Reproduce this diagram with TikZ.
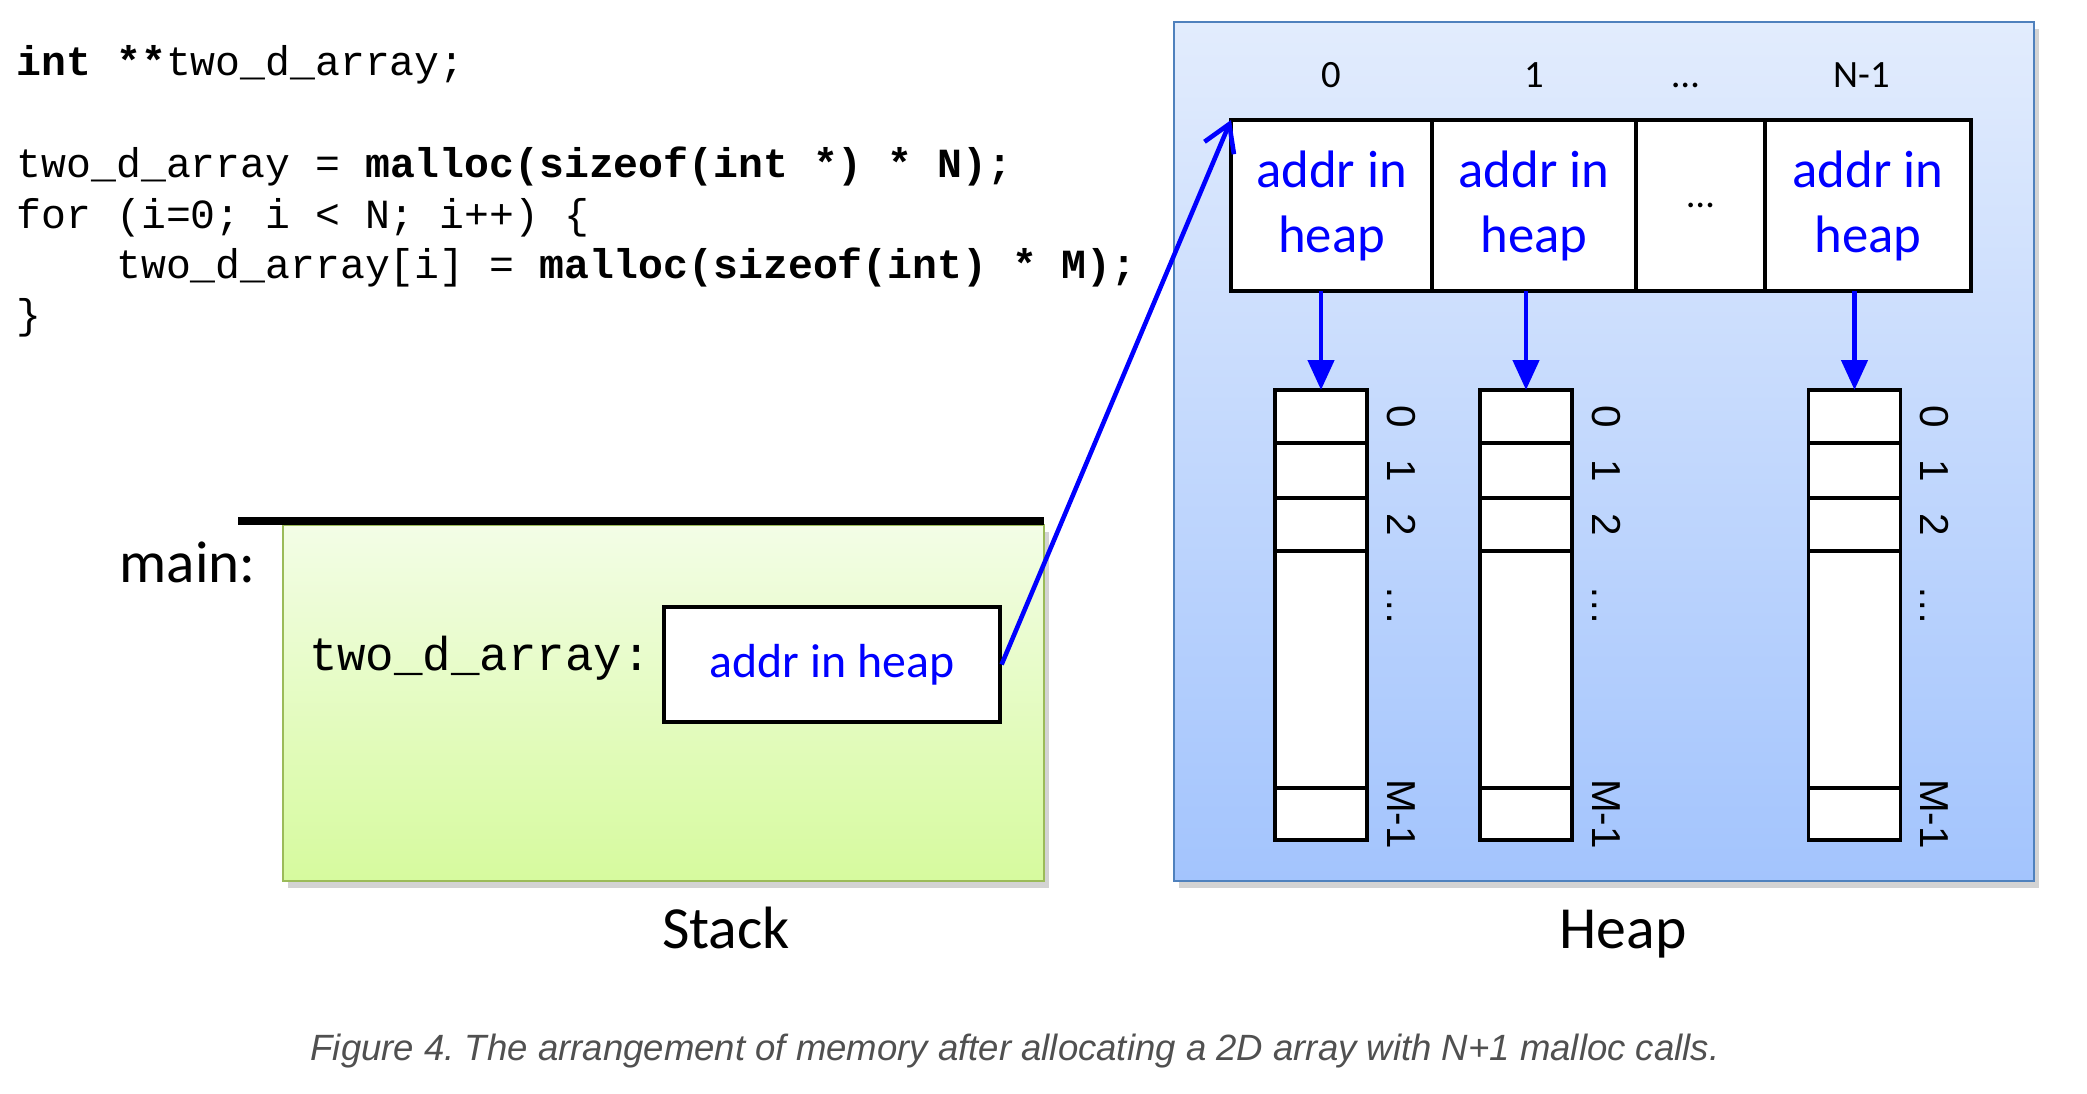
\documentclass[tikz,border=0pt]{standalone}
\usepackage{fontspec}
\setmainfont{Carlito}
\setmonofont{Liberation Mono}
\newfontfamily\capfont{Liberation Sans}
\usetikzlibrary{positioning,arrows.meta,shadows}
\definecolor{heapblue}{RGB}{79,129,189}
\definecolor{heaptop}{RGB}{226,236,253}
\definecolor{heapbot}{RGB}{163,196,253}
\definecolor{stackgreen}{RGB}{155,187,89}
\definecolor{stacktop}{RGB}{243,253,230}
\definecolor{stackbot}{RGB}{214,250,158}
\definecolor{capgray}{RGB}{80,80,80}
\frenchspacing

\begin{document}
\begin{tikzpicture}[
    code/.style={
        font=\fontsize{11.8}{14}\selectfont\ttfamily,
        anchor=base west,
        inner sep=0pt
    },
    region/.style={
        draw,
        line width=0.8pt,
        inner sep=0pt,
        outer sep=0pt,
        drop shadow={shadow xshift=0.05cm, shadow yshift=-0.07cm, opacity=0.35}
    },
    cell/.style={
        draw,
        line width=0.9pt,
        fill=white,
        inner sep=0pt,
        outer sep=0pt,
        minimum height=1.71cm,
        align=center,
        text=blue,
        font=\fontsize{15}{18.5}\selectfont
    },
    slot/.style={
        draw,
        line width=0.9pt,
        fill=white,
        inner sep=0pt,
        outer sep=0pt,
        minimum width=0.92cm
    },
    idx/.style={
        font=\fontsize{11}{13}\selectfont,
        anchor=base
    },
    elem/.style={
        font=\fontsize{11.5}{13}\selectfont\capfont,
        rotate=-90,
        inner sep=0pt,
        text height=0.72em,
        text depth=0pt
    },
    title/.style={
        font=\fontsize{17}{20}\selectfont,
        anchor=base
    },
    ptr/.style={
        blue,
        line width=1.3pt,
        -{Straight Barb[length=2.6mm,width=3.2mm]}
    },
    down/.style={
        blue,
        line width=1.3pt,
        -{Triangle[length=3mm,width=2.6mm]}
    }
]

\useasboundingbox (0,0) rectangle (20.87,-10.93);

% code
\node[code] (decl) at (0.16,-0.75) {\textbf{int **}two\_d\_array;};
\node[code] (alloc) at (0.16,-1.77) {two\_d\_array = \textbf{malloc(sizeof(int *) * N);}};
\node[code] (loop) at (0.16,-2.28) {for (i=0; i < N; i++) \{};
\node[code] (inner) at (0.16,-2.78) {\hphantom{xxxx}two\_d\_array[i] = \textbf{malloc(sizeof(int) * M);}};
\node[code] (close) at (0.16,-3.28) {\}};

% frames
\node[region, draw=heapblue, top color=heaptop, bottom color=heapbot,
    minimum width=8.6cm, minimum height=8.59cm] (heap) at (16.04,-4.515) {};
\node[region, draw=stackgreen, top color=stacktop, bottom color=stackbot,
    minimum width=7.61cm, minimum height=3.56cm] (stack) at (6.635,-7.03) {};
\draw[line width=2.3pt] ([xshift=-0.45cm,yshift=0.04cm]stack.north west) -- ([yshift=0.04cm]stack.north east);

% stack frame
\node[font=\fontsize{16.8}{20}\selectfont, anchor=base west, inner sep=0pt] (mainlbl) at (1.19,-5.82) {main:};
\node[draw, line width=0.9pt, fill=white, inner sep=0pt, text=blue,
    minimum width=3.36cm, minimum height=1.15cm,
    font=\fontsize{13.6}{16}\selectfont] (stackptr) at (8.32,-6.645) {addr in heap};
\node[font=\fontsize{13.5}{16}\selectfont\ttfamily, anchor=base east, inner sep=0pt]
    (varname) at ([xshift=-0.11cm,yshift=-0.055cm]stackptr.west) {two\_d\_array:};

% array of pointers
\node[cell, minimum width=2.01cm] (cell0) at (13.315,-2.055) {addr in\\heap};
\node[cell, minimum width=2.04cm, right=0pt of cell0] (cell1) {addr in\\heap};
\node[cell, minimum width=1.29cm, right=0pt of cell1, text=black,
    font=\fontsize{11}{13}\selectfont] (celldots) {\dots};
\node[cell, minimum width=2.06cm, right=0pt of celldots] (cellN) {addr in\\heap};

\node[idx] (i0) at ([yshift=0.33cm]cell0.north) {0};
\node[idx] (i1) at ([yshift=0.33cm]cell1.north) {1};
\node[idx] (idots) at ([xshift=-0.15cm,yshift=0.33cm]celldots.north) {\dots};
\node[idx] (iN) at ([xshift=-0.06cm,yshift=0.33cm]cellN.north) {N-1};

% rows
\foreach \c/\x in {0/13.21, 1/15.26, 2/18.545} {
    \node[slot, minimum height=0.53cm] (c\c-a) at (\x,-4.165) {};
    \node[slot, minimum height=0.55cm, below=0pt of c\c-a] (c\c-b) {};
    \node[slot, minimum height=0.53cm, below=0pt of c\c-b] (c\c-c) {};
    \node[slot, minimum height=2.37cm, below=0pt of c\c-c] (c\c-d) {};
    \node[slot, minimum height=0.52cm, below=0pt of c\c-d] (c\c-e) {};
    \node[elem] (l\c-a) at ([xshift=0.33cm]c\c-a.east) {0};
    \node[elem] (l\c-b) at ([xshift=0.33cm]c\c-b.east) {1};
    \node[elem] (l\c-c) at ([xshift=0.33cm]c\c-c.east) {2};
    \node[elem] (l\c-d) at ([xshift=0.33cm,yshift=-0.55cm]c\c-d.north east) {\dots};
    \node[elem] (l\c-e) at ([xshift=0.33cm]c\c-e.east) {M-1};
}

\draw[ptr] (stackptr.east) -- (cell0.north west);
\foreach \k/\c in {cell0/0, cell1/1, cellN/2}
    \draw[down] (\k.south -| c\c-a.north) -- (c\c-a.north);

% labels
\node[title] (stacklbl) at (7.26,-9.48) {Stack};
\node[title] (heaplbl) at (16.23,-9.48) {Heap};
\node[font=\fontsize{10.4}{12}\selectfont\capfont\itshape, text=capgray, anchor=base]
    (caption) at (10.15,-10.60) {Figure 4. The arrangement of memory after allocating a 2D array with N+1 malloc calls.};

\end{tikzpicture}
\end{document}
